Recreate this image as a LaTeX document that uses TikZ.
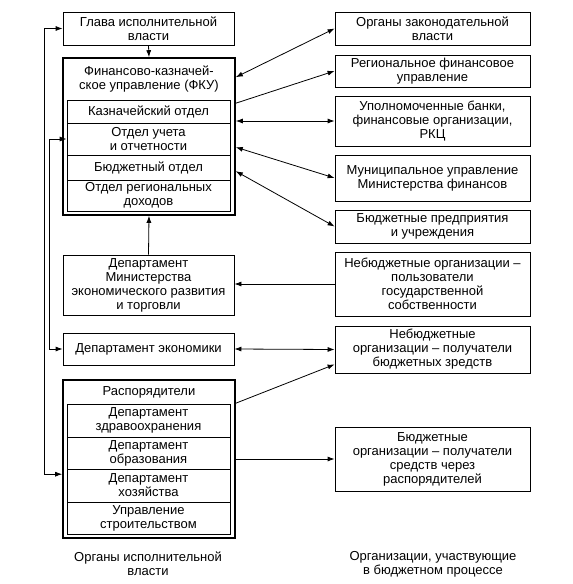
\documentclass[tikz,border=0pt]{standalone}
\usepackage{fontspec}
\setmainfont{Liberation Sans}
\usetikzlibrary{arrows.meta,calc}
\newcommand\fs{\fontsize{13}{14}\selectfont}
\begin{document}
\begin{tikzpicture}[x=1pt,y=-1pt,
  box/.style={draw, line width=0.8pt, inner sep=0pt, align=center, font=\fs},
  lbox/.style={box, minimum width=171pt},
  cell/.style={box, minimum width=163pt},
  rbox/.style={box, minimum width=195pt},
  outer/.style={draw, line width=1.6pt, minimum width=172pt, inner sep=0pt},
  txt/.style={align=center, font=\fs, inner sep=0pt},
  conn/.style={line width=0.8pt},
  >={Latex[length=7pt,width=5pt]}]
\useasboundingbox (0,0) rectangle (573,584);
% left column
\node[lbox, minimum height=33pt] (glava) at (148.5,28.5) {Глава исполнительной\\власти};
\node[outer, minimum height=157pt] (fkuo) at (149,136.5) {};
\node[txt] (fkut) at (149,79) {Финансово-казначей-\\ское управление (ФКУ)};
\node[cell, minimum height=23pt] (kazn) at (148.5,111.5) {Казначейский отдел};
\node[cell, minimum height=32pt] (uchet) at (148.5,139) {Отдел учета\\и отчетности};
\node[cell, minimum height=25pt] (budg) at (148.5,167.5) {Бюджетный отдел};
\node[cell, minimum height=31pt] (regd) at (148.5,195.5) {Отдел региональных\\доходов};
\node[lbox, minimum height=60pt] (dm) at (148.5,285) {Департамент\\Министерства\\экономического развития\\и торговли};
\node[lbox, minimum height=32pt] (econ) at (148.5,349) {Департамент экономики};
\node[outer, minimum height=158pt] (raspo) at (149,459) {};
\node[txt] (raspt) at (149,392) {Распорядители};
\node[cell, minimum height=33pt] (zdrav) at (148.5,420.5) {Департамент\\здравоохранения};
\node[cell, minimum height=32pt] (obraz) at (148.5,453) {Департамент\\образования};
\node[cell, minimum height=33pt] (hoz) at (148.5,485.5) {Департамент\\хозяйства};
\node[cell, minimum height=32pt] (stroy) at (148.5,518) {Управление\\строительством};
\node[txt] (lcap) at (148,564) {Органы исполнительной\\власти};
% right column
\node[rbox, minimum height=33pt] (r1) at (432.5,28.5) {Органы законодательной\\власти};
\node[rbox, minimum height=32pt] (r2) at (432.5,71) {Региональное финансовое\\управление};
\node[rbox, minimum height=50pt] (r3) at (432.5,121) {Уполномоченные банки,\\финансовые организации,\\РКЦ};
\node[rbox, minimum height=46pt] (r4) at (432.5,178) {Муниципальное управление\\Министерства финансов};
\node[rbox, minimum height=33pt] (r5) at (432.5,226.5) {Бюджетные предприятия\\и учреждения};
\node[rbox, minimum height=64pt] (r6) at (432.5,284) {Небюджетные организации –\\пользователи\\государственной\\собственности};
\node[rbox, minimum height=47pt] (r7) at (432.5,349.5) {Небюджетные\\организации – получатели\\бюджетных зредств};
\node[rbox, minimum height=64pt] (r8) at (432.5,459) {Бюджетные\\организации – получатели\\средств через\\распорядителей};
\node[txt] (rcap) at (433,564) {Организации, участвующие\\в бюджетном процессе};
% vertical connectors
\draw[conn,->] (glava.south) -- (fkuo.north);
\draw[conn,->] (dm.north) -- (fkuo.south);
\draw[conn,<->] (glava.west) -- ++(-18,0) |- ($(raspo.north west)+(0,95)$);
\draw[conn,<->] (uchet.west) -- ++(-17,0) |- (econ.west);
% right connectors
\draw[conn,<->] ($(fkuo.north east)+(0,20)$) -- (r1.west);
\draw[conn,->] ($(fkuo.north east)+(0,46)$) -- (r2.west);
\draw[conn,<->] (fkuo.east |- r3.west) -- (r3.west);
\draw[conn,<->] ($(fkuo.north east)+(0,90)$) -- (r4.west);
\draw[conn,<->] ($(fkuo.north east)+(0,114)$) -- (r5.west);
\draw[conn,->] (r6.west) -- (dm.east |- r6.west);
\draw[conn,<->] (econ.east) -- (r7.west);
\draw[conn,->] ($(raspo.north east)+(0,24)$) -- ($(r7.south west)+(0,-9)$);
\draw[conn,->] (raspo.east) -- (r8.west);
\end{tikzpicture}
\end{document}
